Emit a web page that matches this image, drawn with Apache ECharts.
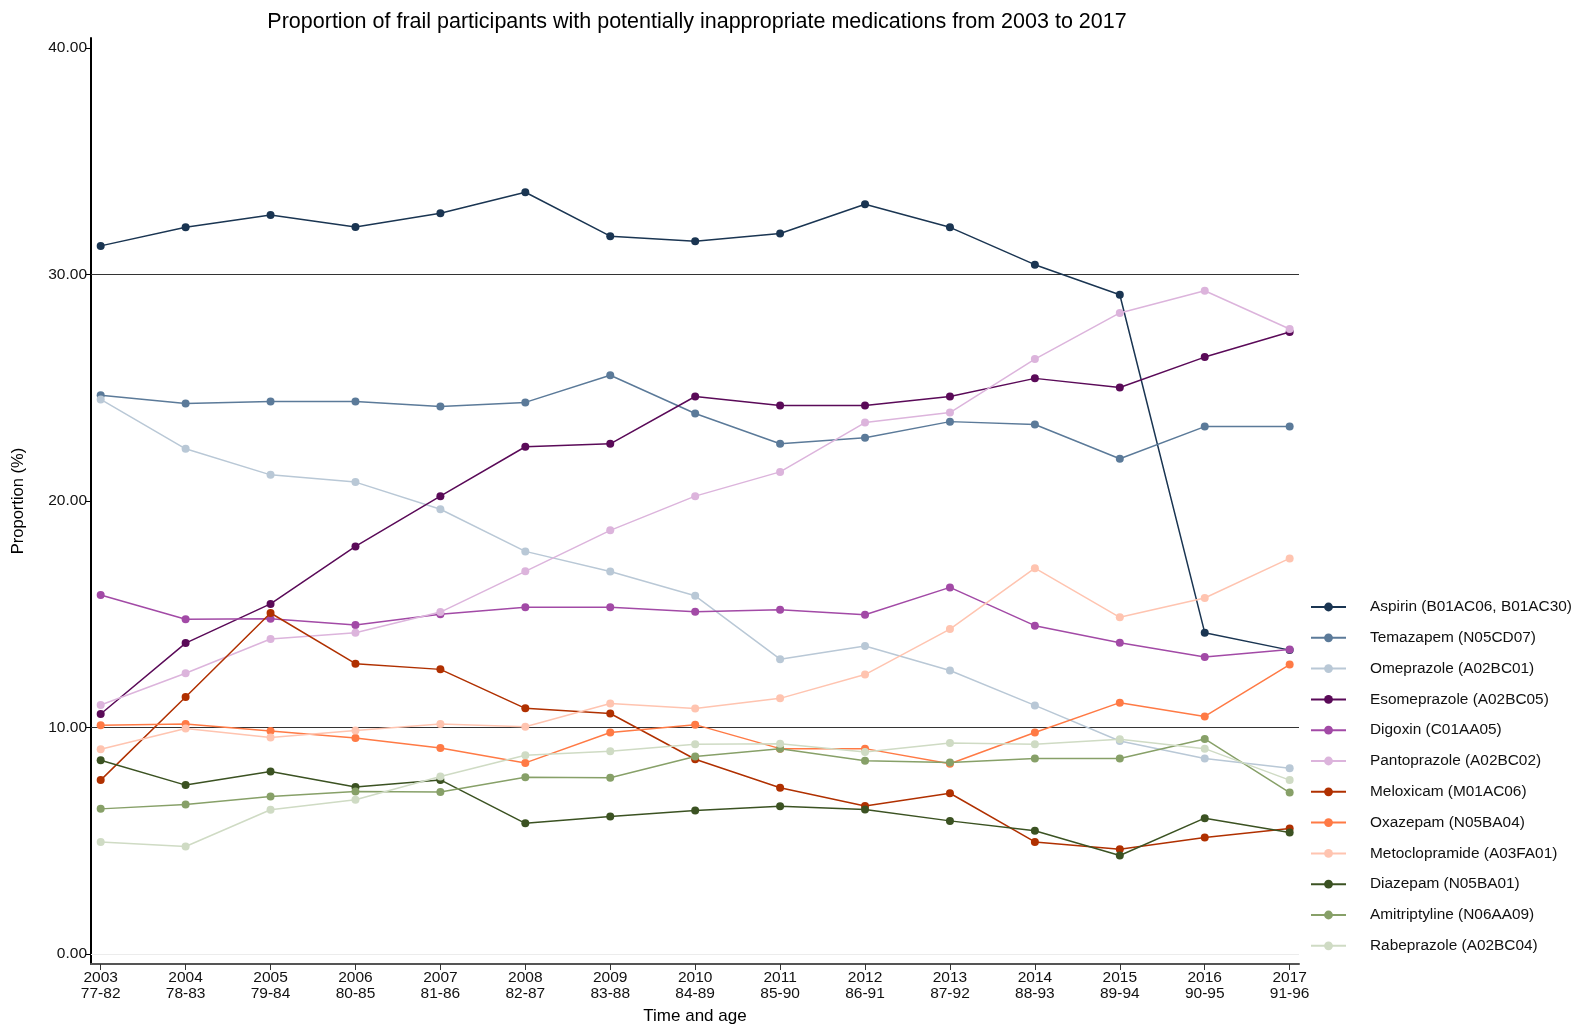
<!DOCTYPE html>
<html>
<head>
<meta charset="utf-8">
<title>Potentially inappropriate medications among frail participants, 2003-2017</title>
<script src="https://cdn.jsdelivr.net/npm/echarts@6/dist/echarts.min.js"></script>
<style>
  html, body { margin: 0; padding: 0; background: #fff; }
  #chart { width: 1578px; height: 1030px; }
</style>
</head>
<body>
<div id="chart"></div>
<script>
// Survey waves and the age band of the cohort at each wave
const years = ['2003','2004','2005','2006','2007','2008','2009','2010','2011','2012','2013','2014','2015','2016','2017'];
const ageBands = ['77-82','78-83','79-84','80-85','81-86','82-87','83-88','84-89','85-90','86-91','87-92','88-93','89-94','90-95','91-96'];

// Proportion (%) of frail participants using each medication, one value per wave
const aspirin        = [31.27, 32.09, 32.63, 32.10, 32.71, 33.64, 31.70, 31.47, 31.82, 33.11, 32.09, 30.44, 29.11, 14.19, 13.42];
const temazepam      = [24.67, 24.31, 24.40, 24.40, 24.18, 24.36, 25.56, 23.87, 22.53, 22.80, 23.51, 23.38, 21.87, 23.29, 23.29];
const omeprazole     = [24.49, 22.31, 21.16, 20.84, 19.64, 17.78, 16.89, 15.82, 13.02, 13.60, 12.52, 10.98, 9.41, 8.63, 8.20];
const esomeprazole   = [10.60, 13.73, 15.46, 18.00, 20.22, 22.40, 22.53, 24.62, 24.22, 24.22, 24.62, 25.42, 25.02, 26.36, 27.47];
const digoxin        = [15.85, 14.78, 14.81, 14.53, 15.00, 15.31, 15.31, 15.12, 15.20, 14.98, 16.19, 14.50, 13.75, 13.12, 13.45];
const pantoprazole   = [11.00, 12.40, 13.91, 14.19, 15.10, 16.90, 18.71, 20.22, 21.29, 23.47, 23.91, 26.27, 28.31, 29.29, 27.60];
const meloxicam      = [7.68, 11.35, 15.06, 12.82, 12.57, 10.85, 10.62, 8.60, 7.34, 6.54, 7.10, 4.95, 4.63, 5.15, 5.54];
const oxazepam       = [10.10, 10.16, 9.85, 9.54, 9.10, 8.44, 9.78, 10.13, 9.07, 9.07, 8.40, 9.78, 11.10, 10.49, 12.78];
const metoclopramide = [9.04, 9.96, 9.56, 9.87, 10.16, 10.04, 11.06, 10.84, 11.29, 12.34, 14.35, 17.04, 14.87, 15.72, 17.47];
const diazepam       = [8.56, 7.46, 8.06, 7.38, 7.69, 5.77, 6.07, 6.34, 6.53, 6.38, 5.88, 5.44, 4.35, 6.00, 5.37];
const amitriptyline  = [6.41, 6.60, 6.96, 7.18, 7.16, 7.81, 7.78, 8.72, 9.06, 8.54, 8.46, 8.63, 8.63, 9.50, 7.13];
const rabeprazole    = [4.95, 4.75, 6.37, 6.81, 7.84, 8.78, 8.95, 9.26, 9.29, 8.92, 9.32, 9.26, 9.48, 9.07, 7.68];

// Y-axis ticks and the reference lines drawn across the plot
const yTicks = [0, 10, 20, 30, 40];
const refLines = [10, 30];

const seriesDefs = [
  { name: 'Aspirin (B01AC06, B01AC30)', values: aspirin,        color: '#1a3552' },
  { name: 'Temazapem (N05CD07)',        values: temazepam,      color: '#5b7a99' },
  { name: 'Omeprazole (A02BC01)',       values: omeprazole,     color: '#b9c8d6' },
  { name: 'Esomeprazole (A02BC05)',     values: esomeprazole,   color: '#5a0a58' },
  { name: 'Digoxin (C01AA05)',          values: digoxin,        color: '#a24aa6' },
  { name: 'Pantoprazole (A02BC02)',     values: pantoprazole,   color: '#dcb4dc' },
  { name: 'Meloxicam (M01AC06)',        values: meloxicam,      color: '#b03000' },
  { name: 'Oxazepam (N05BA04)',         values: oxazepam,       color: '#ff7a45' },
  { name: 'Metoclopramide (A03FA01)',   values: metoclopramide, color: '#ffc4b0' },
  { name: 'Diazepam (N05BA01)',         values: diazepam,       color: '#3b5222' },
  { name: 'Amitriptyline (N06AA09)',    values: amitriptyline,  color: '#87a068' },
  { name: 'Rabeprazole (A02BC04)',      values: rabeprazole,    color: '#cfdbc4' }
];

const FONT = '"Liberation Sans", Arial, Helvetica, sans-serif';
const waveIdx = years.map((_, i) => i);

const series = seriesDefs.map((s, k) => {
  const out = {
    name: s.name,
    type: 'line',
    data: s.values.map((v, i) => [i, v]),
    symbol: 'circle',
    symbolSize: 8,
    color: s.color,
    lineStyle: { width: 1.5, color: s.color },
    itemStyle: { color: s.color },
    emphasis: { disabled: true },
    animation: false,
    z: 3 + k
  };
  if (k === 0) {
    out.markLine = {
      silent: true,
      symbol: 'none',
      label: { show: false },
      z: 1,
      data: [
        { yAxis: 0, lineStyle: { color: '#ececec', width: 1, type: 'solid' } }
      ].concat(refLines.map(v => ({ yAxis: v, lineStyle: { color: '#333', width: 1, type: 'solid' } })))
    };
  }
  return out;
});

const chart = echarts.init(document.getElementById('chart'), null, { renderer: 'canvas' });
chart.setOption({
  backgroundColor: '#ffffff',
  animation: false,
  title: {
    text: 'Proportion of frail participants with potentially inappropriate medications from 2003 to 2017',
    left: 692,
    textAlign: 'center',
    top: 6,
    textStyle: { fontFamily: FONT, fontSize: 21.5, fontWeight: 'normal', color: '#000' }
  },
  legend: {
    orient: 'vertical',
    left: 1305,
    top: 594,
    itemWidth: 35,
    itemHeight: 11,
    itemGap: 14.8,
    selectedMode: false,
    textStyle: { fontFamily: FONT, fontSize: 15.4, color: '#111', lineHeight: 16, padding: [0, 0, 0, 19] },
    data: seriesDefs.map(s => s.name)
  },
  grid: { left: 91, right: 279, top: 38, bottom: 65, containLabel: false },
  xAxis: {
    type: 'value',
    min: -0.114,
    max: 14.11,
    name: 'Time and age',
    nameLocation: 'middle',
    nameGap: 44,
    nameTextStyle: { fontFamily: FONT, fontSize: 17, color: '#000' },
    splitLine: { show: false },
    axisLine: { show: true, onZero: false, lineStyle: { color: '#555', width: 2 } },
    axisTick: { show: true, customValues: waveIdx, length: 6, lineStyle: { color: '#333', width: 1 } },
    axisLabel: {
      customValues: waveIdx,
      margin: 5,
      fontFamily: FONT, fontSize: 15.5, color: '#111', lineHeight: 16.5,
      formatter: v => years[Math.round(v)] + '\n' + ageBands[Math.round(v)]
    }
  },
  yAxis: {
    type: 'value',
    min: -0.44,
    max: 40.45,
    name: 'Proportion (%)',
    nameLocation: 'middle',
    nameGap: 64,
    nameTextStyle: { fontFamily: FONT, fontSize: 16.5, color: '#000' },
    splitLine: { show: false },
    axisLine: { show: true, onZero: false, lineStyle: { color: '#000', width: 2 } },
    axisTick: { show: true, customValues: yTicks, length: 5, lineStyle: { color: '#000', width: 1 } },
    axisLabel: {
      customValues: yTicks,
      margin: 4,
      fontFamily: FONT, fontSize: 15.5, color: '#111',
      formatter: v => Number(v).toFixed(2)
    }
  },
  series: series
});
</script>
</body>
</html>
